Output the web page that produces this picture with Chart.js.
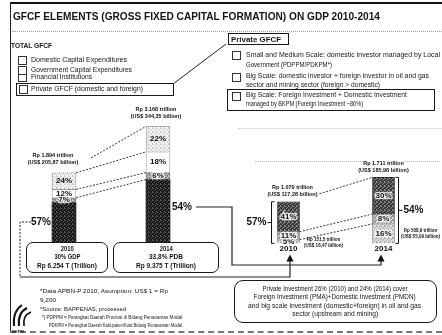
<!DOCTYPE html>
<html>
<head>
<meta charset="utf-8">
<title>GFCF elements on GDP 2010-2014</title>
<script src="https://cdn.jsdelivr.net/npm/chart.js@4.4.1/dist/chart.umd.min.js"></script>
<style>
  html, body { margin: 0; padding: 0; background: #fff; }
  #slide { position: relative; width: 442px; height: 335px; overflow: hidden; background: #fff;
           font-family: 'Liberation Sans', Arial, sans-serif; color: #151515; }
  .t { position: absolute; white-space: nowrap; line-height: 1; }
  .box { position: absolute; border: 1px solid #1a1a1a; box-sizing: border-box; }
  .rbox { position: absolute; border: 1.5px solid #1a1a1a; border-radius: 7px; box-sizing: border-box; }
  .sq { position: absolute; width: 9px; height: 9px; border: 1px solid #333; box-sizing: border-box; background: #fff; }
  canvas { position: absolute; }
  svg { position: absolute; left: 0; top: 0; }
</style>
</head>
<body>
<div id="slide">
  <!-- frame -->
  <div style="position:absolute;left:10px;top:2px;width:432px;height:2px;background:#111"></div>
  <div style="position:absolute;left:10px;top:2px;width:1px;height:330px;background:#222"></div>
  <div style="position:absolute;left:10px;top:331px;width:432px;border-top:2px dashed #777"></div>
  <div style="position:absolute;left:12px;top:31px;width:430px;border-top:1px dotted #999"></div>
  <div style="position:absolute;left:238px;top:128px;width:204px;border-top:1px dotted #ccc"></div>
  <div style="position:absolute;left:255px;top:161px;width:110px;border-top:1px dotted #bbb"></div>
  <div style="position:absolute;left:405px;top:161px;width:35px;border-top:1px dotted #bbb"></div>

  <!-- left legend -->
  <div class="sq" style="left:18px;top:56px"></div>
  <div class="sq" style="left:18px;top:66px"></div>
  <div class="sq" style="left:18px;top:74px;height:8px"></div>
  <div class="box" style="left:16px;top:83px;width:158px;height:13px"></div>
  <div class="sq" style="left:19px;top:85px"></div>

  <!-- right legend -->
  <div class="box" style="left:228px;top:33px;width:61px;height:12px;border-width:1.5px"></div>
  <div class="sq" style="left:232px;top:51px"></div>
  <div class="sq" style="left:232px;top:73px"></div>
  <div class="box" style="left:227px;top:89px;width:208px;height:22px;border-width:1.5px"></div>
  <div class="sq" style="left:232px;top:92px"></div>

  <!-- year boxes and note box -->
  <div class="rbox" style="left:26px;top:242px;width:82px;height:31px"></div>
  <div class="rbox" style="left:113px;top:242px;width:106px;height:31px"></div>
  <div class="rbox" style="left:234px;top:280px;width:203px;height:43px;border-radius:9px"></div>

  <canvas id="left" width="188" height="142" style="left:17px;top:100px"></canvas>
  <canvas id="right" width="201" height="105" style="left:241px;top:150px"></canvas>

  <svg width="442" height="335">
    <defs>
      <marker id="ah" markerWidth="6" markerHeight="6" refX="3" refY="3" orient="auto">
        <path d="M0,0 L6,3 L0,6 z" fill="#111"/>
      </marker>
    </defs>
    <line x1="173" y1="84" x2="226" y2="44" stroke="#222" stroke-width="1"/>
    <path d="M31,222 H20 V277" fill="none" stroke="#222" stroke-width="1" stroke-dasharray="2,1.5"/>
    <path d="M20,277 H290 V258" fill="none" stroke="#222" stroke-width="1.2" marker-end="url(#ah)"/>
    <path d="M196,207 H232 V265 H381 V258" fill="none" stroke="#222" stroke-width="1.2" marker-end="url(#ah)"/>
    <!-- logo -->
    <path d="M14,326 C13,316 16,309 22,305" fill="none" stroke="#111" stroke-width="2"/>
    <path d="M19,326 C18,317 21,311 27,308" fill="none" stroke="#111" stroke-width="2"/>
    <path d="M24,326 C23,319 26,314 31,312" fill="none" stroke="#111" stroke-width="1.6"/>
  </svg>
</div>

<script>
// ---- data ----
const years = ['2010', '2014']
const totalGfcfRp = [1894, 3168]            // Rp trillion
const totalGfcfUsd = ['205,87', '344,35']   // US$ billion
const privateShare = [57, 54]               // % of GFCF
const financialShare = [7, 6]
const govCapexShare = [12, 18]
const domCapexShare = [24, 22]

const privateRp = [1079, 1711]
const privateUsd = ['117,28', '185,98']
const bkpmShare = [41, 30]                  // big scale, managed by BKPM
const oilGasShare = [11, 8]                 // big scale, oil & gas and mining
const localShare = [5, 16]                  // small & medium scale
const localRp = ['151,5', '508,9']
const localUsd = ['16,47', '55,09']

const gdpLabels = ['30% GDP', '33,8% PDB']
const gdpRp = ['Rp 6.254 T (Trillion)', 'Rp 9.375 T (Trillion)']

const FONT = "'Liberation Sans', Arial, sans-serif"
const slide = document.getElementById('slide')

function txt (s, x, cy, size, w, opt = {}) {
  const el = document.createElement('div')
  el.className = 't'
  el.textContent = s
  el.style.fontSize = size + 'px'
  el.style.fontWeight = opt.bold ? 'bold' : 'normal'
  el.style.top = (cy - size / 2) + 'px'
  slide.appendChild(el)
  const nat = el.getBoundingClientRect().width
  const k = w ? w / nat : 1
  if (opt.center) {
    el.style.left = (x - nat / 2) + 'px'
    el.style.transformOrigin = '50% 50%'
  } else {
    el.style.left = x + 'px'
    el.style.transformOrigin = '0 50%'
  }
  el.style.transform = 'scaleX(' + k + ')'
}

// headings and legends
txt('GFCF ELEMENTS (GROSS FIXED CAPITAL FORMATION) ON GDP 2010-2014', 13, 17, 11.5, 367, { bold: true })
txt('TOTAL GFCF', 11, 45, 7, 41, { bold: true })
txt('Domestic Capital Expenditures', 31, 60, 6.5, 96)
txt('Government Capital Expenditures', 31, 70, 6.5, 101)
txt('Financial Institutions', 31, 77.5, 6.5, 61)
txt('Private GFCF (domestic and foreign)', 31, 89.5, 6.5, 112)
txt('Private GFCF', 231, 39, 7, 50, { bold: true })
txt('Small and Medium Scale: domestic investor managed by Local', 246, 55, 6.5, 194)
txt('Government (PDPPM/PDKPM*)', 246, 65, 6.5, 86)
txt('Big Scale: domestic investor + foreign investor in oil and gas', 246, 76, 6.5, 183)
txt('sector and mining sector (foreign > domestic)', 246, 85, 6.5, 134)
txt('Big Scale: Foreign Investment + Domestic Investment', 246, 95, 6.5, 161)
txt('managed by BKPM (Foreign Investment ~80%)', 246, 104, 6.5, 117)

// year boxes under the left bars
const boxCx = [67, 166]
years.forEach((y, i) => {
  txt(y, boxCx[i], 249, 6.5, 13, { bold: true, center: true })
  txt(gdpLabels[i], boxCx[i], 257.5, 6.5, i ? 34 : 26, { bold: true, center: true })
  txt(gdpRp[i], boxCx[i], 266, 6.5, 60, { bold: true, center: true })
})

// notes
txt('*Data APBN-P 2010, Asumption: US$ 1 = Rp', 40, 291, 6, 128)
txt('9,200', 40, 299.5, 6, 16)
txt('*Source: BAPPENAS, processed', 40, 308.5, 6, 86)
txt('*) PDPPM = Perangkat Daerah Provinsi di Bidang Penanaman Modal', 42, 318, 5.5, 140)
txt('PDKPM = Perangkat Daerah Kabupaten/Kota Bidang Penanaman Modal', 49, 326, 5.5, 133)
txt('BKPM', 12, 332, 4, 12, { bold: true })
txt('Private Investment 26% (2010) and 24% (2014) cover', 335, 289, 6.8, 145, { center: true })
txt('Foreign Investment (PMA)+Domestic Investment (PMDN)', 335, 297.5, 6.8, 162, { center: true })
txt('and big scale investment (domestic+foreign) in oil and gas', 335, 306, 6.8, 173, { center: true })
txt('sector (upstream and mining)', 335, 314.5, 6.8, 86, { center: true })

// ---- fills ----
function stipple (ctx, base, dot) {
  const c = document.createElement('canvas')
  c.width = 4
  c.height = 4
  const g = c.getContext('2d')
  g.fillStyle = base
  g.fillRect(0, 0, 4, 4)
  g.fillStyle = dot
  ;[[0, 0], [2, 1], [1, 2], [3, 3], [3, 0]].forEach(p => g.fillRect(p[0], p[1], 1, 1))
  return ctx.createPattern(c, 'repeat')
}

const amount = (share, total) => share.map((s, i) => s * total[i] / 100)

function label (ctx, s, x, y, size, opt = {}) {
  ctx.save()
  ctx.font = (opt.bold === false ? '' : 'bold ') + size + 'px ' + FONT
  ctx.textAlign = opt.align || 'center'
  ctx.textBaseline = 'middle'
  if (opt.halo) {
    ctx.lineWidth = 2.5
    ctx.strokeStyle = 'rgba(255,255,255,0.85)'
    ctx.strokeText(s, x, y)
  }
  ctx.fillStyle = opt.color || '#111'
  ctx.fillText(s, x, y)
  ctx.restore()
}

function dashed (ctx, pts) {
  ctx.save()
  ctx.setLineDash([2, 1.5])
  ctx.strokeStyle = '#222'
  ctx.lineWidth = 0.9
  pts.forEach(p => {
    ctx.beginPath()
    ctx.moveTo(p[0], p[1])
    ctx.lineTo(p[2], p[3])
    ctx.stroke()
  })
  ctx.restore()
}

// ---- left chart: total GFCF ----
const leftShares = [privateShare, financialShare, govCapexShare, domCapexShare]
const leftLabels = {
  id: 'leftLabels',
  afterDatasetsDraw (chart) {
    const ctx = chart.ctx
    const m = chart.data.datasets.map((d, i) => chart.getDatasetMeta(i).data)
    const a = j => m.map(d => d[j])
    const b10 = a(0)
    const b14 = a(1)
    const r10 = b10[0].x + b10[0].width / 2
    const l14 = b14[0].x - b14[0].width / 2
    dashed(ctx, [
      [r10 + 15, b10[3].y - 15, l14, b14[3].y],
      [r10, b10[3].y, l14, b14[2].y],
      [r10, b10[2].y, l14, b14[1].y],
      [r10, b10[1].y, l14, b14[0].y]
    ])
    for (let i = 1; i < m.length; i++) {
      m[i].forEach((bar, j) => {
        label(ctx, leftShares[i][j] + '%', bar.x, (bar.y + bar.base) / 2, 8, { halo: i === 1 })
      })
    }
    years.forEach((y, j) => {
      const top = m[3][j]
      const cx = top.x - (j ? 2 : 11)
      label(ctx, 'Rp ' + totalGfcfRp[j].toLocaleString('de-DE') + ' trillion', cx, top.y - 17, 5.5)
      label(ctx, '(US$ ' + totalGfcfUsd[j] + ' billion)', cx, top.y - 10, 5.5)
    })
    const p10 = m[0][0]
    const p14 = m[0][1]
    label(ctx, privateShare[0] + '%', p10.x - p10.width / 2 - 1, (p10.y + p10.base) / 2, 10, { align: 'right' })
    label(ctx, privateShare[1] + '%', p14.x + p14.width / 2 + 2, (p14.y + p14.base) / 2 - 4, 10, { align: 'left' })
  }
}

const lctx = document.getElementById('left').getContext('2d')
const leftFills = [
  { bg: stipple(lctx, '#161616', '#555'), bd: '#111' },
  { bg: stipple(lctx, '#8a8a8a', '#cfcfcf'), bd: '#777' },
  { bg: '#ffffff', bd: '#999' },
  { bg: stipple(lctx, '#f4f4f4', '#c8c8c8'), bd: '#999' }
]

// eslint-disable-next-line no-new
new Chart(lctx, {
  type: 'bar',
  data: {
    labels: years,
    datasets: leftShares.map((s, i) => ({
      data: amount(s, totalGfcfRp),
      backgroundColor: leftFills[i].bg,
      borderColor: leftFills[i].bd,
      borderWidth: i === 0 ? 0 : 0.8,
      barThickness: 24
    }))
  },
  options: {
    responsive: false,
    animation: false,
    layout: { padding: 0 },
    plugins: { legend: { display: false }, tooltip: { enabled: false } },
    scales: {
      x: { stacked: true, display: false },
      y: { stacked: true, display: false, min: 0, max: 3890 }
    }
  },
  plugins: [leftLabels]
})

// ---- right chart: private GFCF ----
const rightShares = [localShare, oilGasShare, bkpmShare]
const rightLabels = {
  id: 'rightLabels',
  afterDatasetsDraw (chart) {
    const ctx = chart.ctx
    const m = chart.data.datasets.map((d, i) => chart.getDatasetMeta(i).data)
    const b10 = m.map(d => d[0])
    const b14 = m.map(d => d[1])
    const r10 = b10[0].x + b10[0].width / 2
    const l10 = b10[0].x - b10[0].width / 2
    const l14 = b14[0].x - b14[0].width / 2
    const r14 = b14[0].x + b14[0].width / 2
    dashed(ctx, [
      [r10 + 20, b10[2].y - 8, l14, b14[2].y],
      [r10, b10[1].y, l14, b14[1].y],
      [r10, b10[0].y, l14, b14[0].y]
    ])
    m.forEach((bars, i) => {
      bars.forEach((bar, j) => {
        label(ctx, rightShares[i][j] + '%', bar.x, (bar.y + bar.base) / 2, 8, { halo: true })
      })
    })
    // brackets
    ctx.save()
    ctx.strokeStyle = '#111'
    ctx.lineWidth = 1
    const bx0 = l10 - 6
    const top10 = b10[2].y
    const base = b10[0].base
    ctx.beginPath()
    ctx.moveTo(bx0 + 3, top10); ctx.lineTo(bx0, top10); ctx.lineTo(bx0, base); ctx.lineTo(bx0 + 3, base)
    ctx.moveTo(bx0 - 4, (top10 + base) / 2); ctx.lineTo(bx0, (top10 + base) / 2)
    const bx1 = r14 + 4
    const top14 = b14[2].y
    ctx.moveTo(bx1 - 3, top14); ctx.lineTo(bx1, top14); ctx.lineTo(bx1, base); ctx.lineTo(bx1 - 3, base)
    ctx.moveTo(bx1, (top14 + base) / 2); ctx.lineTo(bx1 + 4, (top14 + base) / 2)
    ctx.stroke()
    ctx.restore()
    label(ctx, privateShare[0] + '%', bx0 - 5, (top10 + base) / 2, 10, { align: 'right' })
    label(ctx, privateShare[1] + '%', bx1 + 5, (top14 + base) / 2, 10, { align: 'left' })
    years.forEach((y, j) => {
      const top = m[2][j]
      const cx = top.x + (j ? 0 : 4)
      label(ctx, 'Rp ' + privateRp[j].toLocaleString('de-DE') + ' trillion', cx, top.y - 14, 5.5)
      label(ctx, '(US$ ' + privateUsd[j] + ' billion)', cx, top.y - 7, 5.5)
    })
    const lo10 = m[0][0]
    label(ctx, 'Rp ' + localRp[0] + ' trillion', r10 + 24, lo10.base - 4, 4.5)
    label(ctx, '(US$ ' + localUsd[0] + ' billion)', r10 + 24, lo10.base + 2, 4.5)
    const lo14 = m[0][1]
    const mid = (lo14.y + lo14.base) / 2
    label(ctx, 'Rp ' + localRp[1] + ' trillion', r14 + 26, mid - 3, 4.5)
    label(ctx, '(US$ ' + localUsd[1] + ' billion)', r14 + 26, mid + 3, 4.5)
  }
}

const rctx = document.getElementById('right').getContext('2d')
const rightFills = [
  { bg: stipple(rctx, '#dcdcdc', '#a8a8a8'), bd: '#888' },
  { bg: stipple(rctx, '#9a9a9a', '#dedede'), bd: '#666' },
  { bg: stipple(rctx, '#3a3a3a', '#8c8c8c'), bd: '#222' }
]

// eslint-disable-next-line no-new
new Chart(rctx, {
  type: 'bar',
  data: {
    labels: years,
    datasets: rightShares.map((s, i) => ({
      data: amount(s, totalGfcfRp),
      backgroundColor: rightFills[i].bg,
      borderColor: rightFills[i].bd,
      borderWidth: 0.8,
      barThickness: 22
    }))
  },
  options: {
    responsive: false,
    animation: false,
    layout: { padding: { right: 11 } },
    plugins: { legend: { display: false }, tooltip: { enabled: false } },
    scales: {
      x: {
        stacked: true,
        grid: { display: false, drawTicks: false },
        border: { display: false },
        ticks: { color: '#111', padding: 1, font: { size: 8, weight: 'bold', family: FONT } }
      },
      y: { stacked: true, display: false, min: 0, max: 2420 }
    }
  },
  plugins: [rightLabels]
})
</script>
</body>
</html>
